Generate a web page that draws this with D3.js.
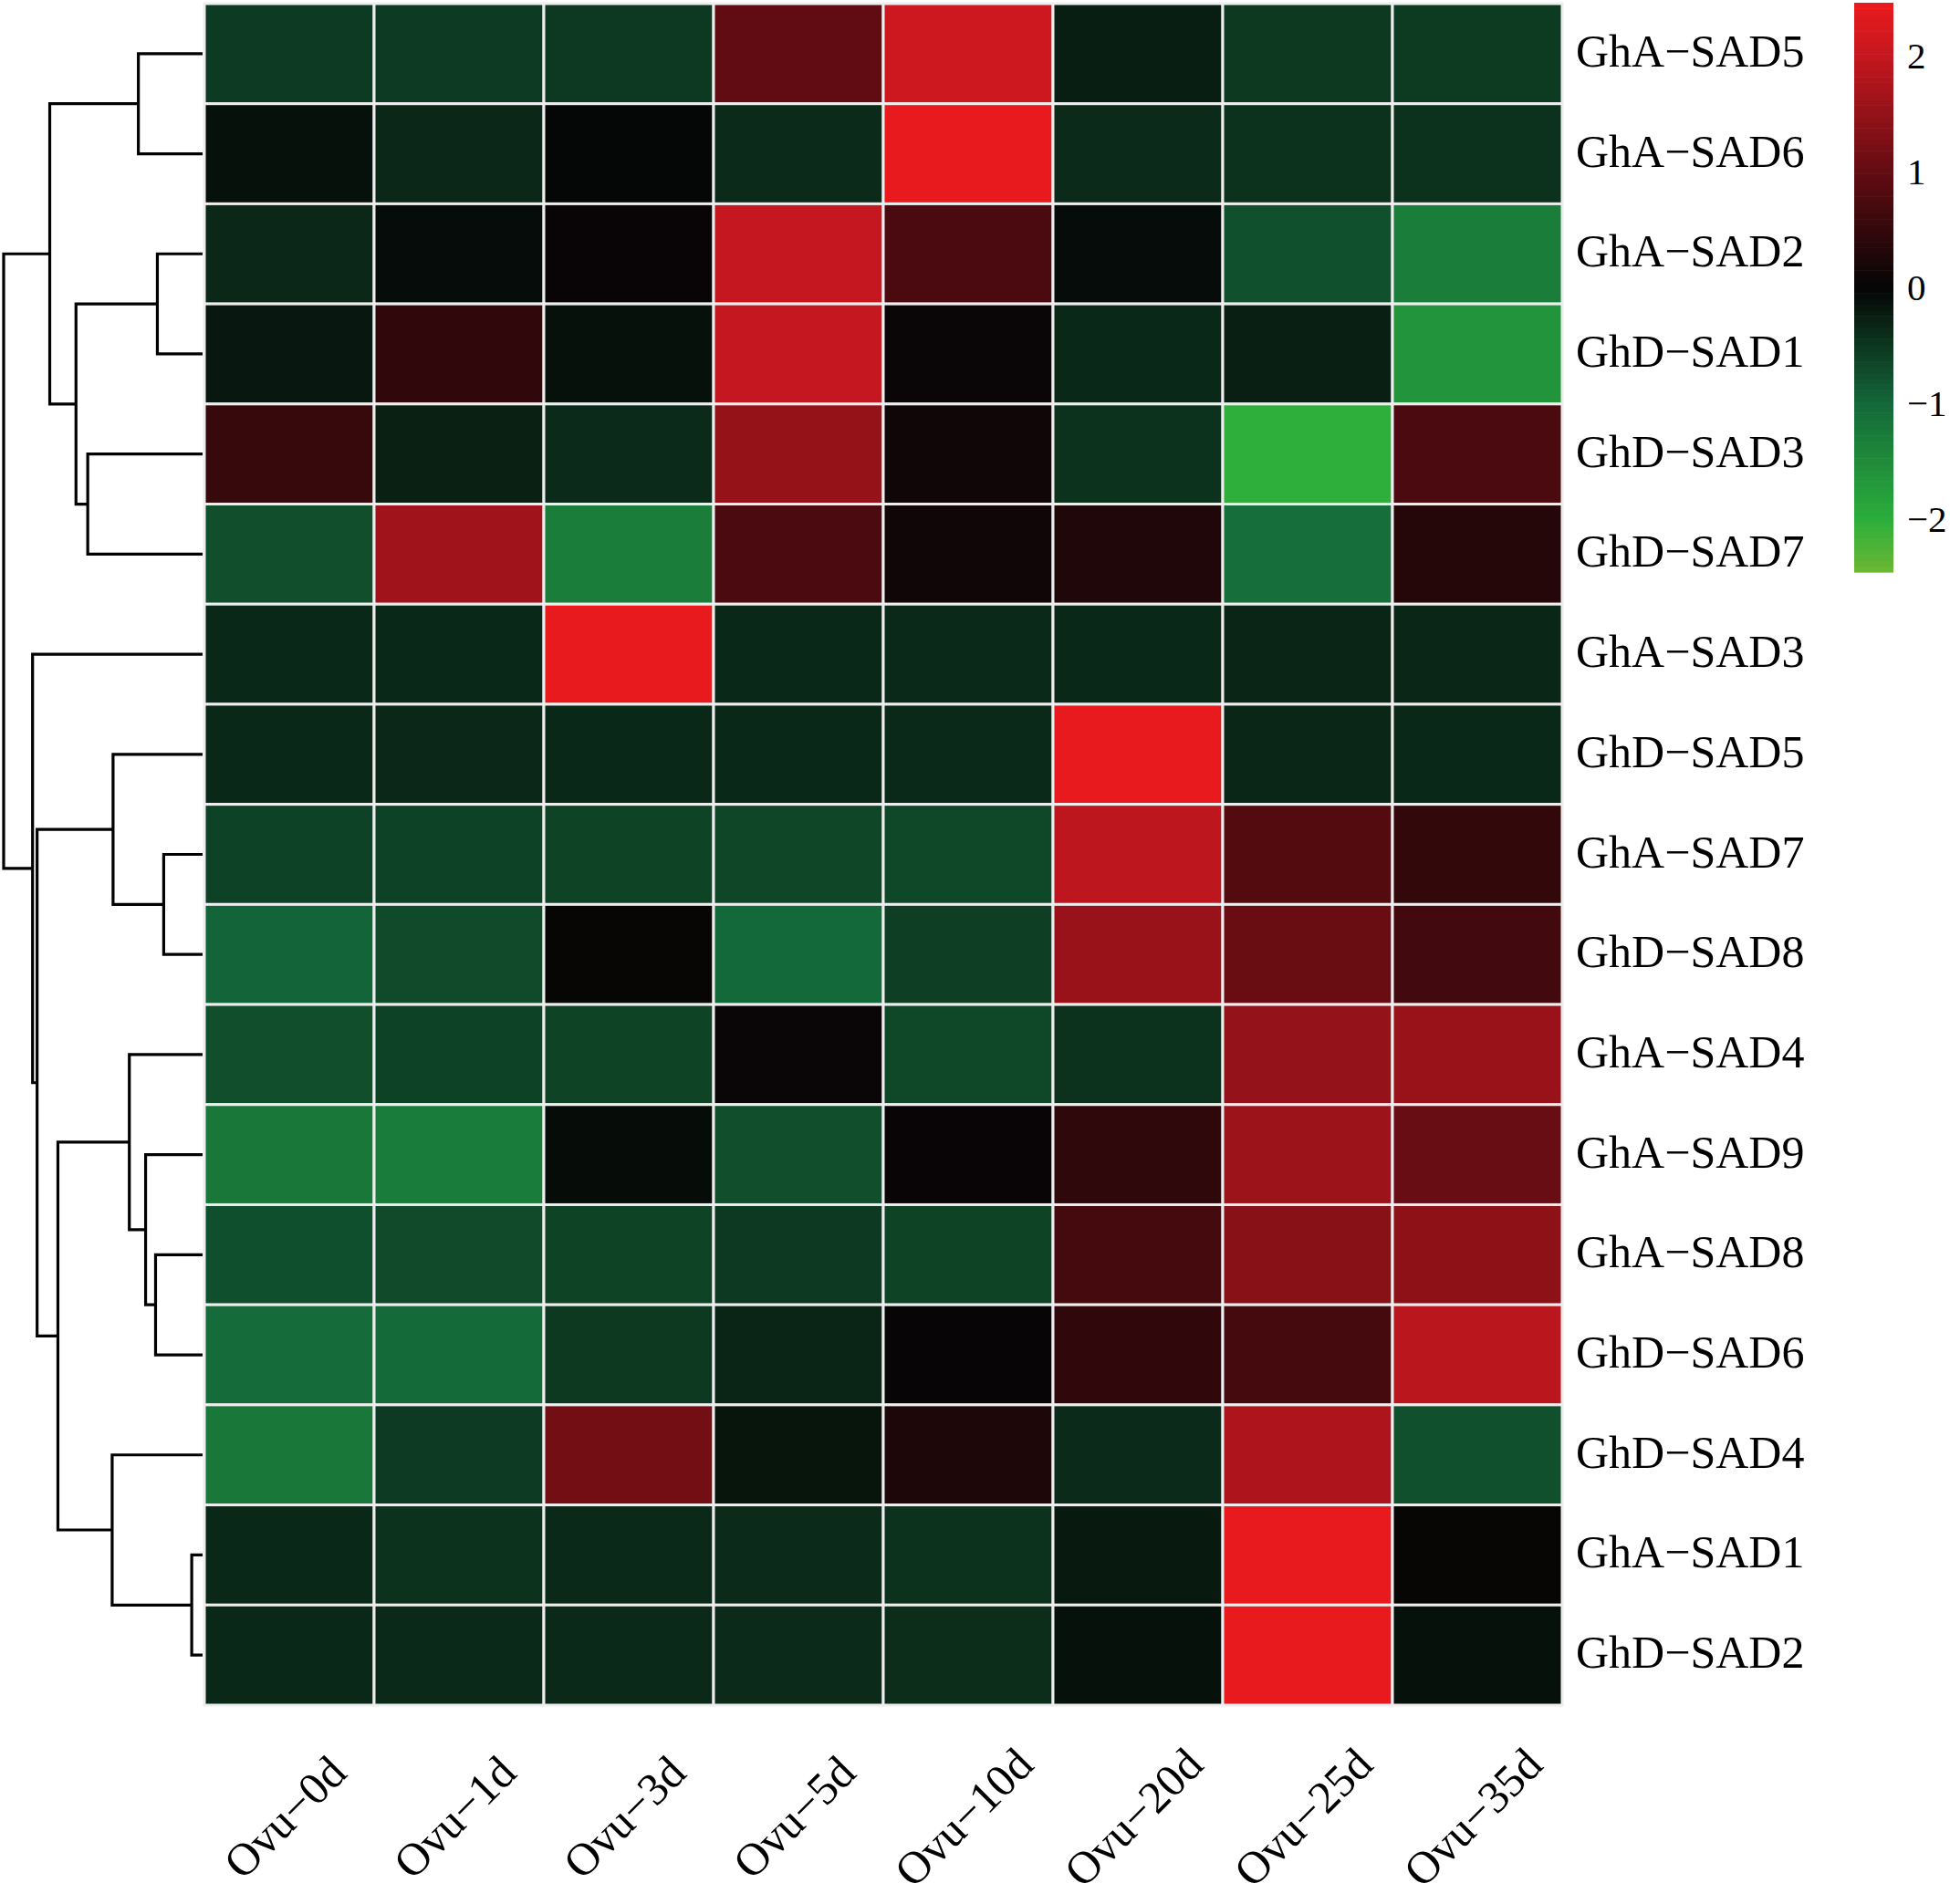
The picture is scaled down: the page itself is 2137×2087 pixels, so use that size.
<!DOCTYPE html>
<html>
<head>
<meta charset="utf-8">
<script src="https://cdn.jsdelivr.net/npm/d3@7"></script>
<style>
  body { margin: 0; background: #fff; }
  svg { display: block; }
</style>
</head>
<body>
<div class="canvas"></div>
<script>
// samples (columns) and genes (rows, in dendrogram order)
const samples = ['Ovu−0d', 'Ovu−1d', 'Ovu−3d', 'Ovu−5d', 'Ovu−10d', 'Ovu−20d', 'Ovu−25d', 'Ovu−35d'];
const genes = ['GhA−SAD5', 'GhA−SAD6', 'GhA−SAD2', 'GhD−SAD1', 'GhD−SAD3', 'GhD−SAD7',
               'GhA−SAD3', 'GhD−SAD5', 'GhA−SAD7', 'GhD−SAD8', 'GhA−SAD4', 'GhA−SAD9',
               'GhA−SAD8', 'GhD−SAD6', 'GhD−SAD4', 'GhA−SAD1', 'GhD−SAD2'];

// row-scaled expression (z-scores), one array per gene
const values = [
  [-0.54, -0.54, -0.52, 0.98, 2.10, -0.25, -0.53, -0.55],
  [-0.12, -0.34, -0.02, -0.37, 2.43, -0.37, -0.45, -0.45],
  [-0.34, -0.07, 0.04, 2.00, 0.74, -0.07, -0.76, -1.30],
  [-0.18, 0.46, -0.12, 1.99, 0.05, -0.35, -0.26, -1.63],
  [0.54, -0.27, -0.37, 1.53, 0.12, -0.44, -2.02, 0.74],
  [-0.74, 1.63, -1.30, 0.74, 0.12, 0.29, -1.10, 0.34],
  [-0.35, -0.35, 2.43, -0.35, -0.36, -0.35, -0.32, -0.33],
  [-0.35, -0.34, -0.35, -0.35, -0.36, 2.43, -0.33, -0.35],
  [-0.62, -0.62, -0.63, -0.66, -0.68, 1.93, 0.85, 0.49],
  [-0.96, -0.70, 0.03, -1.02, -0.58, 1.57, 1.08, 0.66],
  [-0.74, -0.62, -0.63, 0.05, -0.68, -0.45, 1.50, 1.56],
  [-1.22, -1.28, -0.08, -0.74, 0.04, 0.44, 1.60, 1.05],
  [-0.75, -0.70, -0.63, -0.52, -0.63, 0.69, 1.38, 1.44],
  [-1.04, -1.03, -0.53, -0.32, 0.02, 0.46, 0.69, 1.88],
  [-1.22, -0.54, 1.17, -0.16, 0.27, -0.37, 1.76, -0.76],
  [-0.35, -0.44, -0.36, -0.37, -0.44, -0.20, 2.43, 0.03],
  [-0.35, -0.36, -0.36, -0.37, -0.40, -0.12, 2.43, -0.12]
];

// row dendrogram, hclust style: negative = leaf (row), positive = earlier merge
const merges = [
  [-1, -2], [-3, -4], [-5, -6], [2, 3], [1, 4],
  [-9, -10], [-8, 6], [-13, -14], [-12, 8], [-11, 9],
  [-16, -17], [-15, 11], [10, 12], [7, 13], [-7, 14], [5, 15]
];
const mergeHeights = [71, 50, 127, 140, 169, 43, 99, 52, 63, 81, 12, 100, 160, 183, 188, 220];

const legendTicks = [-2, -1, 0, 1, 2];
const colorStops = [-2.46, -2, -1, 0, 1, 2, 2.46];
const colorRange = ['#6cb833', '#2bae3b', '#14683a', '#050505', '#620c12', '#c5171f', '#ea1a1d'];

const W = 2137, H = 2087;
const svg = d3.select('.canvas').append('svg')
    .attr('width', W)
    .attr('height', H);

const color = d3.scaleLinear().domain(colorStops).range(colorRange).clamp(true);

const x = d3.scaleBand().domain(samples).range([224, 1712]);
const y = d3.scaleBand().domain(genes).range([4, 1869]);

// cells
const rows = svg.append('g').selectAll('g')
    .data(values)
    .join('g');

rows.selectAll('rect')
    .data((d, i) => d.map((v, j) => ({ v: v, gene: genes[i], sample: samples[j] })))
    .join('rect')
    .attr('x', d => x(d.sample))
    .attr('y', d => y(d.gene))
    .attr('width', x.bandwidth())
    .attr('height', y.bandwidth())
    .attr('fill', d => color(d.v))
    .attr('stroke', '#eeeeee')
    .attr('stroke-width', 3);

// gene labels
svg.append('g').selectAll('text')
    .data(genes)
    .join('text')
    .attr('x', 1727)
    .attr('y', d => y(d) + y.bandwidth() / 2 + 14)
    .text(d => d)
    .style('font-family', '"Liberation Serif", "Times New Roman", serif')
    .style('font-size', '50px')
    .attr('fill', '#000');

// sample labels, rotated
svg.append('g').selectAll('text')
    .data(samples)
    .join('text')
    .attr('transform', d => `translate(${x(d) + x.bandwidth() / 2 + 7}, 2004) rotate(-45)`)
    .attr('text-anchor', 'middle')
    .text(d => d)
    .style('font-family', '"Liberation Serif", "Times New Roman", serif')
    .style('font-size', '50px')
    .attr('fill', '#000');

// dendrogram
const hx = d3.scaleLinear().domain([0, 220]).range([222, 4]);
const nodeY = [];
const pos = n => n < 0
  ? { x: hx(0), y: y(genes[-n - 1]) + y.bandwidth() / 2 }
  : { x: hx(mergeHeights[n - 1]), y: nodeY[n - 1] };

const dendro = svg.append('g')
    .attr('fill', 'none')
    .attr('stroke', '#000')
    .attr('stroke-width', 3.2);

merges.forEach((m, i) => {
  const a = pos(m[0]), b = pos(m[1]);
  const mx = hx(mergeHeights[i]);
  nodeY[i] = (a.y + b.y) / 2;
  const p = d3.path();
  p.moveTo(a.x, a.y);
  p.lineTo(mx, a.y);
  p.lineTo(mx, b.y);
  p.lineTo(b.x, b.y);
  dendro.append('path').attr('d', p.toString());
});

// colour legend
const ly = d3.scaleLinear().domain([-2.46, 2.46]).range([627, 3]);
const steps = d3.range(-2.46, 2.46, 0.0492);
svg.append('g').selectAll('rect')
    .data(steps)
    .join('rect')
    .attr('x', 2032)
    .attr('width', 43)
    .attr('y', d => ly(d + 0.0492))
    .attr('height', d => ly(d) - ly(d + 0.0492) + 0.6)
    .attr('fill', d => color(d + 0.0246));

svg.append('g').selectAll('text')
    .data(legendTicks)
    .join('text')
    .attr('x', 2090)
    .attr('y', d => ly(d) + 14)
    .text(d => d < 0 ? '−' + Math.abs(d) : d)
    .style('font-family', '"Liberation Serif", "Times New Roman", serif')
    .style('font-size', '41px')
    .attr('fill', '#000');
</script>
</body>
</html>
